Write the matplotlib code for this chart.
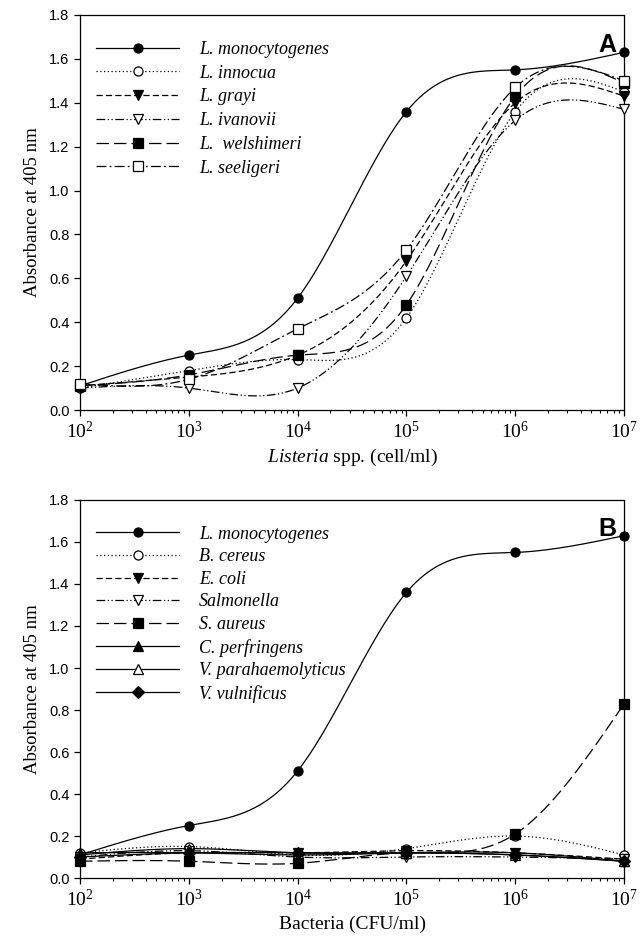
import matplotlib
matplotlib.use('Agg')
import matplotlib.pyplot as plt
import numpy as np

plt.rcParams['mathtext.fontset'] = 'custom'
plt.rcParams['mathtext.rm'] = 'Liberation Serif'
plt.rcParams['mathtext.it'] = 'Liberation Serif:italic'

conc = [1e2, 1e3, 1e4, 1e5, 1e6, 1e7]

# panel A - Listeria species
names_a = ['L. monocytogenes', 'L. innocua', 'L. grayi', 'L. ivanovii',
           'L.  welshimeri', 'L. seeligeri']
mono = [0.11, 0.25, 0.51, 1.36, 1.55, 1.63]
innocua = [0.10, 0.18, 0.23, 0.42, 1.36, 1.45]
grayi = [0.11, 0.15, 0.25, 0.68, 1.40, 1.43]
ivanovii = [0.10, 0.10, 0.10, 0.61, 1.32, 1.37]
welshimeri = [0.11, 0.16, 0.25, 0.48, 1.43, 1.49]
seeligeri = [0.12, 0.14, 0.37, 0.73, 1.47, 1.50]

# panel B - other bacteria
names_b = ['L. monocytogenes', 'B. cereus', 'E. coli', 'Salmonella', 'S. aureus',
           'C. perfringens', 'V. parahaemolyticus', 'V. vulnificus']
cereus = [0.12, 0.15, 0.11, 0.14, 0.20, 0.11]
ecoli = [0.09, 0.12, 0.12, 0.13, 0.12, 0.09]
salmonella = [0.10, 0.13, 0.10, 0.10, 0.10, 0.09]
aureus = [0.08, 0.08, 0.07, 0.12, 0.21, 0.83]
perfringens = [0.12, 0.12, 0.11, 0.12, 0.12, 0.08]
parahaem = [0.11, 0.14, 0.12, 0.12, 0.11, 0.08]
vulnificus = [0.10, 0.12, 0.12, 0.12, 0.11, 0.08]

# line styles (dash patterns in points)
solid = '-'
dotted = (0, (1, 2))
dashed = (0, (5, 2.5))
dashdotdot = (0, (7, 2, 1, 2, 1, 2))
longdash = (0, (10, 4))
dashdot = (0, (8, 2.5, 1.5, 2.5))


def spline(xs, ys, n=300):
    # natural cubic spline through the points, in log10(x)
    t = np.log10(xs)
    y = np.asarray(ys, float)
    k = len(t)
    h = np.diff(t)
    A = np.zeros((k, k))
    r = np.zeros(k)
    A[0, 0] = A[-1, -1] = 1
    for i in range(1, k - 1):
        A[i, i - 1] = h[i - 1]
        A[i, i] = 2 * (h[i - 1] + h[i])
        A[i, i + 1] = h[i]
        r[i] = 6 * ((y[i + 1] - y[i]) / h[i] - (y[i] - y[i - 1]) / h[i - 1])
    m = np.linalg.solve(A, r)
    tt = np.linspace(t[0], t[-1], n)
    j = np.clip(np.searchsorted(t, tt) - 1, 0, k - 2)
    a = t[j + 1] - tt
    b = tt - t[j]
    hh = h[j]
    yy = (m[j] * a**3 + m[j + 1] * b**3) / (6 * hh) \
        + (y[j] / hh - m[j] * hh / 6) * a + (y[j + 1] / hh - m[j + 1] * hh / 6) * b
    return 10**tt, yy


def draw(ax, ys, ls, marker, mfc, label):
    sx, sy = spline(conc, ys)
    ax.plot(sx, sy, color='black', linestyle=ls, linewidth=0.9, clip_on=False)
    ax.plot(conc, ys, linestyle='none', marker=marker, ms=6.5, mfc=mfc,
            mec='black', mew=0.9, clip_on=False, zorder=5)
    # legend proxy
    ax.plot([], [], color='black', linestyle=ls, linewidth=0.9, marker=marker,
            ms=6.5, mfc=mfc, mec='black', mew=0.9, label=label)


def style(ax, letter, xlabel, spacing):
    ax.set_xscale('log')
    ax.set_xlim(1e2, 1e7)
    ax.set_ylim(0, 1.8)
    ax.set_yticks(np.arange(0, 1.81, 0.2))
    ax.set_yticklabels(['%.1f' % v for v in np.arange(0, 1.81, 0.2)],
                       family='Liberation Sans', fontsize=10.5)
    ax.set_xticks(conc)
    ax.set_xticklabels([r'$10^{%d}$' % p for p in range(2, 8)], fontsize=14)
    ax.tick_params(axis='both', which='major', direction='out', length=4, width=0.9)
    ax.tick_params(axis='x', which='minor', direction='out', length=2.5, width=0.8)
    ax.tick_params(top=False, right=False, which='both')
    for s in ax.spines.values():
        s.set_linewidth(0.9)
    ax.set_ylabel('Absorbance at 405 nm', family='Liberation Serif', fontsize=13.5,
                  labelpad=6)
    ax.set_xlabel(xlabel, family='Liberation Serif', fontsize=14, labelpad=4)
    ax.text(0.985, 0.955, letter, transform=ax.transAxes, ha='right', va='top',
            family='Liberation Sans', fontweight='bold', fontsize=18)
    leg = ax.legend(loc='upper left', bbox_to_anchor=(0.0, 0.975), frameon=False,
                    handlelength=4.6, handletextpad=1.1, labelspacing=spacing,
                    prop={'family': 'Liberation Serif', 'style': 'italic', 'size': 13},
                    borderaxespad=0.5)
    return leg


fig = plt.figure(figsize=(6.44, 9.43), dpi=100)
ax1 = fig.add_axes([0.1242, 0.5652, 0.845, 0.4189])
ax2 = fig.add_axes([0.1242, 0.0689, 0.845, 0.4009])

draw(ax1, mono, solid, 'o', 'black', names_a[0])
draw(ax1, innocua, dotted, 'o', 'white', names_a[1])
draw(ax1, grayi, dashed, 'v', 'black', names_a[2])
draw(ax1, ivanovii, dashdotdot, 'v', 'white', names_a[3])
draw(ax1, welshimeri, longdash, 's', 'black', names_a[4])
draw(ax1, seeligeri, dashdot, 's', 'white', names_a[5])
style(ax1, 'A', r'$\mathit{Listeria}$ spp. (cell/ml)', 0.37)

draw(ax2, mono, solid, 'o', 'black', names_b[0])
draw(ax2, cereus, dotted, 'o', 'white', names_b[1])
draw(ax2, ecoli, dashed, 'v', 'black', names_b[2])
draw(ax2, salmonella, dashdotdot, 'v', 'white', names_b[3])
draw(ax2, aureus, longdash, 's', 'black', names_b[4])
draw(ax2, perfringens, solid, '^', 'black', names_b[5])
draw(ax2, parahaem, solid, '^', 'white', names_b[6])
draw(ax2, vulnificus, solid, 'D', 'black', names_b[7])
style(ax2, 'B', 'Bacteria (CFU/ml)', 0.31)

fig.savefig('out.png', dpi=100)
